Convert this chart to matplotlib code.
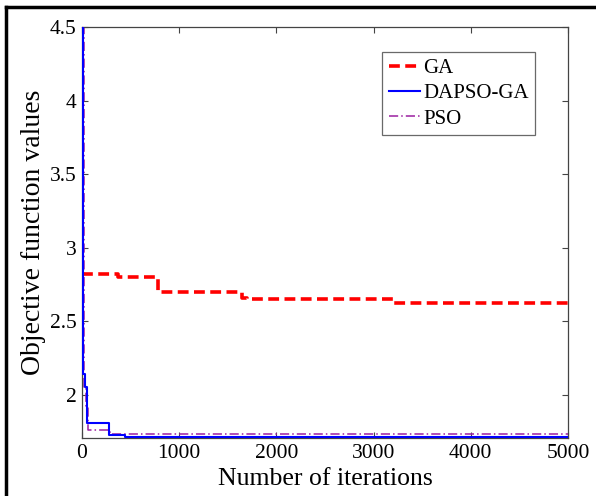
import numpy as np
import matplotlib
matplotlib.use("Agg")
import matplotlib.pyplot as plt
from matplotlib.lines import Line2D

plt.rcParams['font.family'] = ['Liberation Serif', 'DejaVu Serif']

# Convergence curves (iteration, best objective value)
ga_iter = [0, 370, 780, 1650, 1700, 3200, 5000]
ga_val = [2.82, 2.80, 2.70, 2.655, 2.65, 2.62, 2.62]

dapso_iter = [0, 10, 30, 50, 280, 440, 5000]
dapso_val = [4.55, 2.14, 2.05, 1.81, 1.727, 1.712, 1.712]

pso_iter = [0, 20, 45, 60, 290, 5000]
pso_val = [4.5, 2.05, 1.92, 1.76, 1.735, 1.735]

x_ticks = [0, 1000, 2000, 3000, 4000, 5000]
y_ticks = [2, 2.5, 3, 3.5, 4, 4.5]

fig = plt.figure(figsize=(5.96, 4.96), dpi=100)
ax = fig.add_axes([82/596, 1 - 438/496, (568 - 82)/596, (438 - 27)/496])

ax.plot(ga_iter, ga_val, drawstyle='steps-post', color='#ff0000',
        linestyle=(0, (3, 1.5)), linewidth=2.6, label='GA', zorder=3)
ax.plot(dapso_iter, dapso_val, drawstyle='steps-post', color='#0000ff',
        linewidth=1.5, label='DAPSO-GA', zorder=4)
ax.plot(pso_iter, pso_val, drawstyle='steps-post', color='#9b1fa0',
        linestyle=(0, (6, 2, 1, 2)), linewidth=1.1, label='PSO', zorder=2)

ax.set_xlim(0, 5000)
ax.set_ylim(1.705, 4.5)
ax.set_xticks(x_ticks)
ax.set_yticks(y_ticks)
ax.set_yticklabels(['2', '2.5', '3', '3.5', '4', '4.5'])
ax.tick_params(direction='in', top=True, right=True, labelsize=15.5,
               length=4, width=0.8, color='#444444', pad=4)
for sp in ax.spines.values():
    sp.set_color('#444444')
    sp.set_linewidth(0.9)

ax.set_xlabel('Number of iterations', fontsize=18.5, labelpad=4)
ax.set_ylabel('Objective function values', fontsize=20, labelpad=3)

leg = ax.legend(loc='upper right', bbox_to_anchor=(0.932, 0.939), fontsize=15,
                frameon=True, fancybox=False, edgecolor='#444444',
                handlelength=1.5, handletextpad=0.15, borderpad=0.3,
                labelspacing=0.28, borderaxespad=0)
leg.get_frame().set_linewidth(0.9)

# outer frame (left and top edges only)
fig.add_artist(Line2D([6/596, 6/596], [0, 1 - 7/496], transform=fig.transFigure,
                      color='black', linewidth=2.5))
fig.add_artist(Line2D([6/596, 1], [1 - 7/496, 1 - 7/496], transform=fig.transFigure,
                      color='black', linewidth=2.5))

fig.savefig('out.png', dpi=100)
